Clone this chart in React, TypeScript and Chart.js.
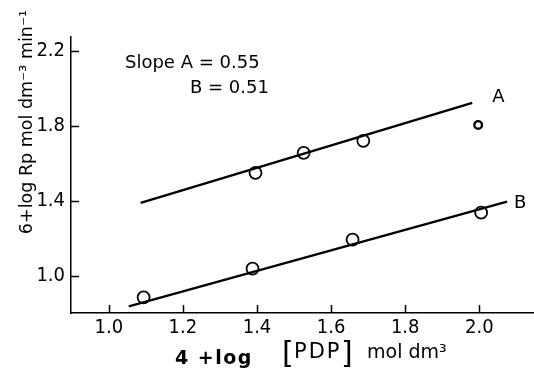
import React, { useEffect, useRef } from "react";
import { Chart, registerables } from "chart.js";
Chart.register(...registerables);

const xTicks = [1.0, 1.2, 1.4, 1.6, 1.8, 2.0];
const yTicks = [1.0, 1.4, 1.8, 2.2];
const pointsAX = [1.396, 1.526, 1.687, 1.997];
const pointsAY = [1.549, 1.656, 1.72, 1.805];
const pointsBX = [1.094, 1.388, 1.658, 2.005];
const pointsBY = [0.883, 1.037, 1.192, 1.336];
const lineAX = [1.086, 1.981];
const lineAY = [1.389, 1.923];
const lineBX = [1.054, 2.075];
const lineBY = [0.835, 1.395];
const seriesLabels = ["A", "B"];
const slopeText = ["Slope A = 0.55", "B = 0.51"];

const FONT = '"DejaVu Sans", sans-serif';
const NARROW = '"Liberation Sans Narrow", "DejaVu Sans Condensed", sans-serif';

const zip = (xs: number[], ys: number[]) => xs.map((x, i) => ({ x, y: ys[i] }));

const decorPlugin = {
  id: "decor",
  afterDraw(chart: any) {
    const ctx = chart.ctx;
    const xs = chart.scales.x;
    const ys = chart.scales.y;
    const area = chart.chartArea;
    ctx.save();
    ctx.strokeStyle = "#000";
    ctx.lineWidth = 1.5;
    // inward ticks
    xTicks.forEach((v) => {
      const px = Math.round(xs.getPixelForValue(v)) + 0.5;
      ctx.beginPath();
      ctx.moveTo(px, area.bottom);
      ctx.lineTo(px, area.bottom - 8);
      ctx.stroke();
    });
    yTicks.forEach((v) => {
      const py = Math.round(ys.getPixelForValue(v)) + 0.5;
      ctx.beginPath();
      ctx.moveTo(area.left, py);
      ctx.lineTo(area.left + 8, py);
      ctx.stroke();
    });
    ctx.fillStyle = "#000";
    // series labels
    ctx.font = `18px ${FONT}`;
    ctx.textAlign = "left";
    ctx.textBaseline = "middle";
    const la = lineAX.length - 1;
    ctx.fillText(seriesLabels[0], xs.getPixelForValue(lineAX[la]) + 20, ys.getPixelForValue(lineAY[la]) - 6);
    const lb = lineBX.length - 1;
    ctx.fillText(seriesLabels[1], xs.getPixelForValue(lineBX[lb]) + 7, ys.getPixelForValue(lineBY[lb]) + 2);
    // slope text
    ctx.font = `18px ${FONT}`;
    ctx.textBaseline = "alphabetic";
    ctx.fillText(slopeText[0], 125, 68);
    ctx.fillText(slopeText[1], 190, 93);
    // y title
    ctx.save();
    ctx.translate(32, 122);
    ctx.rotate(-Math.PI / 2);
    ctx.textAlign = "center";
    ctx.font = `17.5px ${FONT}`;
    ctx.fillText("6+log Rp mol dm\u207B\u00B3 min\u207B\u00B9", 0, 0);
    ctx.restore();
    // x title
    ctx.textAlign = "left";
    ctx.font = `bold 19px ${FONT}`;
    (ctx as any).letterSpacing = "1.5px";
    ctx.fillText("4 +log", 175, 364);
    (ctx as any).letterSpacing = "2px";
    ctx.font = `21px ${FONT}`;
    ctx.fillText("PDP", 294, 358);
    (ctx as any).letterSpacing = "0px";
    ctx.font = `30px ${FONT}`;
    ctx.fillText("[", 282, 363);
    ctx.fillText("]", 341, 363);
    ctx.font = `19px ${FONT}`;
    ctx.fillText("mol dm\u00B3", 367, 358);
    ctx.restore();
  },
};

export default function App() {
  const ref = useRef<HTMLCanvasElement>(null);
  useEffect(() => {
    if (!ref.current) return;
    const chart = new Chart(ref.current, {
      type: "scatter",
      data: {
        datasets: [
          {
            data: zip(lineAX, lineAY),
            showLine: true,
            borderColor: "#000",
            borderWidth: 2.4,
            pointRadius: 0,
          },
          {
            data: zip(lineBX, lineBY),
            showLine: true,
            borderColor: "#000",
            borderWidth: 2.4,
            pointRadius: 0,
          },
          {
            data: zip(pointsAX.slice(0, 3), pointsAY.slice(0, 3)),
            backgroundColor: "#fff",
            borderColor: "#000",
            borderWidth: 1.8,
            pointRadius: 6,
          },
          {
            data: zip(pointsAX.slice(3), pointsAY.slice(3)),
            backgroundColor: "#fff",
            borderColor: "#000",
            borderWidth: 2.4,
            pointRadius: 3.8,
          },
          {
            data: zip(pointsBX, pointsBY),
            backgroundColor: "#fff",
            borderColor: "#000",
            borderWidth: 1.8,
            pointRadius: 6,
          },
        ],
      },
      options: {
        animation: false,
        responsive: false,
        maintainAspectRatio: false,
        layout: { autoPadding: false, padding: { top: 37, right: 1, left: 0, bottom: 0 } },
        plugins: { legend: { display: false }, tooltip: { enabled: false } },
        scales: {
          x: {
            type: "linear",
            min: 0.898,
            max: 2.145,
            grid: { display: false, drawTicks: false },
            border: { display: true, color: "#000", width: 1.5 },
            afterBuildTicks: (s: any) => {
              s.ticks = xTicks.map((v) => ({ value: v }));
            },
            afterFit: (s: any) => {
              s.height = 56;
            },
            ticks: {
              color: "#000",
              font: { family: NARROW, size: 20 },
              padding: 3,
              maxRotation: 0,
              callback: (v: any) => Number(v).toFixed(1),
            },
          },
          y: {
            type: "linear",
            min: 0.8,
            max: 2.275,
            grid: { display: false, drawTicks: false },
            border: { display: true, color: "#000", width: 1.5 },
            afterBuildTicks: (s: any) => {
              s.ticks = yTicks.map((v) => ({ value: v }));
            },
            afterFit: (s: any) => {
              s.width = 71;
            },
            ticks: {
              color: "#000",
              font: { family: NARROW, size: 20 },
              padding: 6,
              callback: (v: any) => Number(v).toFixed(1),
            },
          },
        },
      },
      plugins: [decorPlugin],
    } as any);
    return () => chart.destroy();
  }, []);
  return (
    <div style={{ position: "fixed", left: 0, top: 0, width: 534, height: 369, background: "#fff" }}>
      <canvas ref={ref} width={534} height={369} style={{ width: 534, height: 369 }} />
    </div>
  );
}
